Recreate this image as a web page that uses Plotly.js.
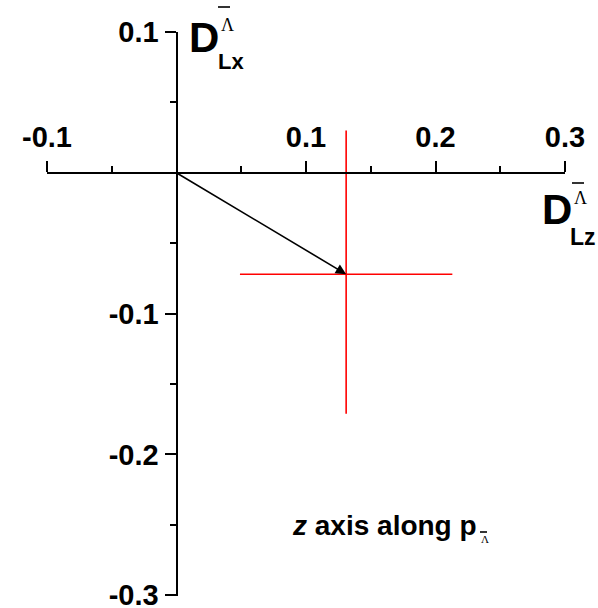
<!DOCTYPE html>
<html>
<head>
<meta charset="utf-8">
<script src="https://cdn.plot.ly/plotly-3.0.1.min.js"></script>
<style>
  html, body { margin: 0; padding: 0; background: #fff; }
  #chart { width: 598px; height: 608px; }
</style>
</head>
<body>
<div id="chart"></div>
<script>
// Measured polarization transfer components (with uncertainties)
const DLz = [0.131];
const DLx = [-0.072];
const DLzErr = [0.082];
const DLxErrPlus = [0.102];
const DLxErrMinus = [0.099];

// Axis ranges and tick labels
const xRange = [-0.1, 0.3];
const yRange = [-0.3005, 0.1];
const xTickVals = [-0.1, 0.1, 0.2, 0.3];
const xTickText = ['-0.1', '0.1', '0.2', '0.3'];
const xMinorVals = [-0.05, 0.05, 0.15, 0.25];
const yTickVals = [0.1, -0.1, -0.2, -0.3];
const yTickText = ['0.1', '-0.1', '-0.2', '-0.3'];
const yMinorVals = [0.05, -0.05, -0.15, -0.25];

const FONT = 'Liberation Sans, Arial, sans-serif';
const SERIF = 'Liberation Serif, Times New Roman, serif';

// page-pixel helpers for the decorative labels (plot box at ML,MT)
const W = 598, H = 608, ML = 47, MR = 33, MT = 32, MB = 12;
const px = v => (v - ML) / (W - ML - MR);
const py = v => 1 - (v - MT) / (H - MT - MB);

const trace = {
  x: DLz,
  y: DLx,
  type: 'scatter',
  mode: 'markers',
  marker: { size: 2, color: '#ff0000' },
  error_x: { type: 'data', array: DLzErr, color: '#ff0000', thickness: 1.6, width: 0 },
  error_y: { type: 'data', symmetric: false, array: DLxErrPlus, arrayminus: DLxErrMinus,
             color: '#ff0000', thickness: 1.6, width: 0 },
  hoverinfo: 'skip',
  showlegend: false
};

// Fraction of the plot where the other axis crosses zero
const xZeroFrac = (0 - xRange[0]) / (xRange[1] - xRange[0]);
const yZeroFrac = (0 - yRange[0]) / (yRange[1] - yRange[0]);

const axisCommon = {
  showgrid: false,
  zeroline: false,
  showline: true,
  linecolor: '#000',
  linewidth: 2,
  ticks: 'outside',
  ticklen: 11,
  tickwidth: 2,
  tickcolor: '#000',
  tickmode: 'array',
  automargin: false,
  ticklabeloverflow: 'allow',
  tickfont: { family: FONT, size: 29, color: '#000', weight: 'bold' }
};

function label(x, y, text, size, family, anchor) {
  return { xref: 'paper', yref: 'paper', x: px(x), y: py(y), xanchor: anchor || 'left', yanchor: 'middle',
           text: text, showarrow: false, font: { family: family || FONT, size: size, color: '#000' } };
}
function bar(x0, x1, y) {
  return { type: 'line', xref: 'paper', yref: 'paper', x0: px(x0), x1: px(x1), y0: py(y), y1: py(y),
           line: { color: '#000', width: 1.6 } };
}

const layout = {
  width: W,
  height: H,
  margin: { l: ML, r: MR, t: MT, b: MB },
  paper_bgcolor: '#fff',
  plot_bgcolor: '#fff',
  xaxis: Object.assign({}, axisCommon, {
    range: xRange,
    anchor: 'free',
    position: yZeroFrac,
    side: 'top',
    tickvals: xTickVals,
    ticktext: xTickText,
    ticklabelstandoff: 2,
    minor: { tickmode: 'array', tickvals: xMinorVals, ticks: 'outside', ticklen: 6, tickwidth: 2, tickcolor: '#000', showgrid: false }
  }),
  yaxis: Object.assign({}, axisCommon, {
    range: yRange,
    anchor: 'free',
    position: xZeroFrac,
    side: 'left',
    tickvals: yTickVals,
    ticktext: yTickText,
    minor: { tickmode: 'array', tickvals: yMinorVals, ticks: 'outside', ticklen: 6, tickwidth: 2, tickcolor: '#000', showgrid: false }
  }),
  shapes: [
    bar(218, 230, 7),    // bar over Λ of the vertical-axis title
    bar(572, 584, 183),  // bar over Λ of the horizontal-axis title
    bar(480, 487, 532)   // bar over Λ of the frame note
  ],
  annotations: [
    // arrow from the origin to the measured point
    { x: DLz[0], y: DLx[0], xref: 'x', yref: 'y', ax: 0, ay: 0, axref: 'x', ayref: 'y',
      showarrow: true, arrowhead: 2, arrowsize: 1.3, arrowwidth: 1.6, arrowcolor: '#000', text: '' },
    // vertical-axis title D_Lx
    label(187, 38, '<b>D</b>', 42),
    label(216, 61, '<b>Lx</b>', 22),
    label(219, 25, 'Λ', 18, SERIF),
    // horizontal-axis title D_Lz
    label(540, 210, '<b>D</b>', 42),
    label(568, 237, '<b>Lz</b>', 23),
    label(572, 198, 'Λ', 18, SERIF),
    // frame note
    label(290, 525, '<b><i>z</i> axis along p</b>', 28),
    label(479, 539, 'Λ', 11, SERIF)
  ]
};

Plotly.newPlot('chart', [trace], layout, { displayModeBar: false, staticPlot: true });
</script>
</body>
</html>
